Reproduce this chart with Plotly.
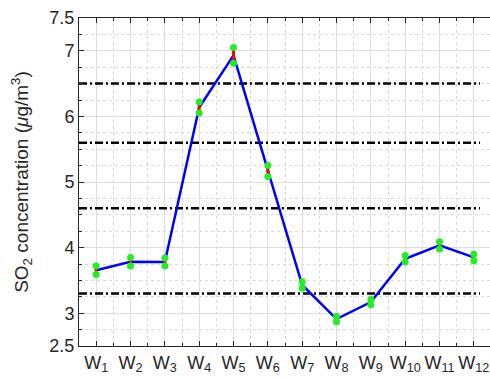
import plotly.graph_objects as go

sites = ["W1", "W2", "W3", "W4", "W5", "W6", "W7", "W8", "W9", "W10", "W11", "W12"]
site_labels = ["W<sub>%d</sub>" % i for i in range(1, 13)]
site_pos = list(range(1, 13))
means = [3.655, 3.785, 3.78, 6.135, 6.93, 5.165, 3.43, 2.91, 3.17, 3.83, 4.035, 3.85]
errs = [0.065, 0.065, 0.06, 0.085, 0.12, 0.085, 0.05, 0.04, 0.04, 0.05, 0.055, 0.05]
thresholds = [6.5, 5.6, 4.6, 3.3]
threshold_x = [0.5, 12.18]
ytick_vals = [2.5, 3, 4, 5, 6, 7, 7.5]

fig = go.Figure()

for t in thresholds:
    fig.add_trace(go.Scatter(x=threshold_x, y=[t, t], mode="lines",
                             line=dict(color="black", width=2.5, dash="8px,3px,2px,3px"),
                             showlegend=False, hoverinfo="skip"))

fig.add_trace(go.Scatter(x=site_pos, y=means, mode="lines",
                         line=dict(color="#0000ff", width=2.5), showlegend=False))

fig.add_trace(go.Scatter(x=site_pos, y=means, mode="markers",
                         marker=dict(size=0.1, color="rgba(0,0,0,0)"),
                         error_y=dict(type="data", array=errs, visible=True,
                                      color="#ff0000", thickness=3, width=0),
                         showlegend=False))

upper = [m + e for m, e in zip(means, errs)]
lower = [m - e for m, e in zip(means, errs)]
fig.add_trace(go.Scatter(x=site_pos + site_pos, y=upper + lower, mode="markers",
                         marker=dict(size=7, color="#22ee22"), showlegend=False))

font_family = "Liberation Sans, Arial, sans-serif"
axis_common = dict(showline=True, linecolor="#262626", linewidth=1,
                   ticks="inside", ticklen=5, tickcolor="#262626",
                   gridcolor="#dedede", gridwidth=1, zeroline=False,
                   tickfont=dict(family=font_family, size=18, color="#262626"))

fig.update_xaxes(range=[0.5, 12.47], tickvals=site_pos, ticktext=site_labels,
                 mirror="allticks",
                 minor=dict(dtick=0.5, tick0=0.5, showgrid=True, gridcolor="#d9d9d9",
                            griddash="dot", ticks="inside", ticklen=3, tickcolor="#262626"),
                 **axis_common)
fig.update_yaxes(range=[2.5, 7.5], tickvals=ytick_vals, ticktext=[str(v) for v in ytick_vals],
                 minor=dict(dtick=0.25, tick0=2.5, showgrid=True, gridcolor="#d9d9d9",
                            griddash="dot", ticks="inside", ticklen=3, tickcolor="#262626"),
                 title=dict(text="SO<sub>2</sub> concentration (<i>μ</i>g/m<sup>3</sup>)",
                            font=dict(family=font_family, size=19, color="#262626"),
                            standoff=15),
                 **axis_common)

fig.update_layout(width=490, height=379, margin=dict(l=79, r=0, t=18, b=33),
                  plot_bgcolor="white", paper_bgcolor="white", showlegend=False)

fig.write_html("out.html")
